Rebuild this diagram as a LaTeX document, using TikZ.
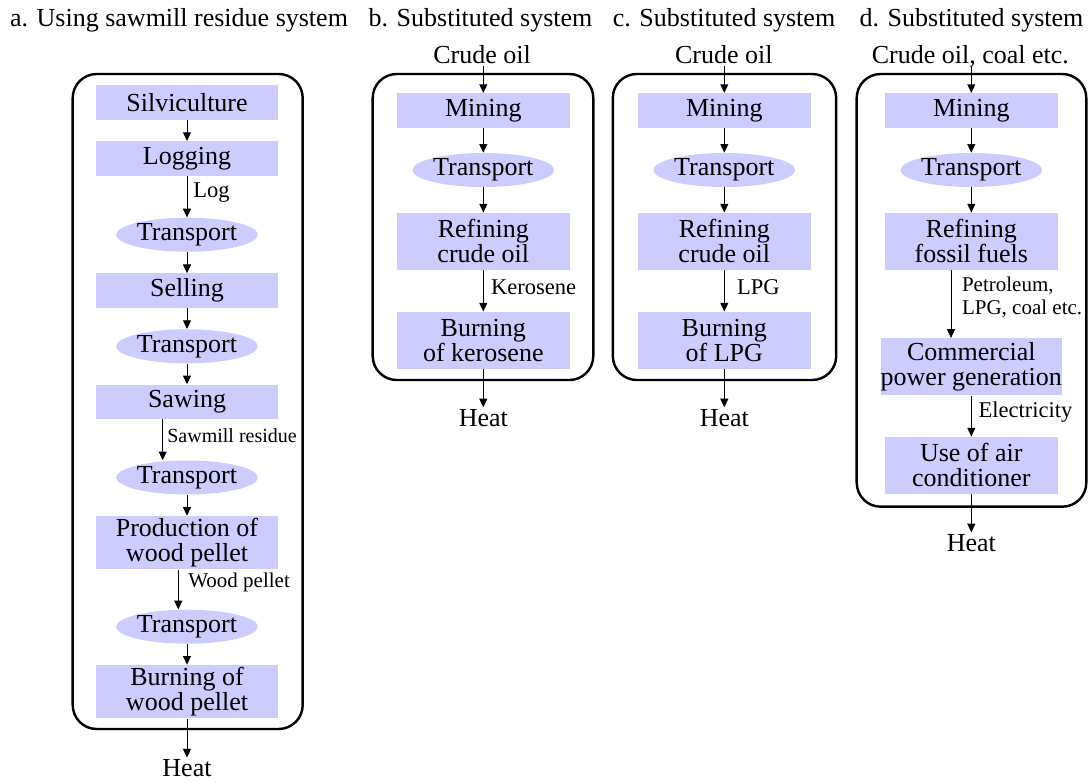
\documentclass[tikz,border=0pt]{standalone}
\usepackage{fontspec}
\setmainfont{Liberation Serif}
\usetikzlibrary{arrows.meta,shapes.geometric}
\definecolor{boxfill}{RGB}{204,204,255}
\newcommand\mainfs{\fontsize{15.6}{15}\selectfont}
\newcommand\lblfs{\fontsize{13.5}{14}\selectfont}
\newcommand\lblsm{\fontsize{12.6}{14}\selectfont}
\newcommand\lblxs{\fontsize{12}{13.6}\selectfont}
\begin{document}
\begin{tikzpicture}[x=0.6pt,y=-0.6pt,
  proc/.style={rectangle,fill=boxfill,inner sep=0pt,align=center,font=\mainfs,minimum height=20.7pt},
  procA/.style={proc,minimum width=109.2pt},
  procB/.style={proc,minimum width=103.8pt},
  tallA/.style={minimum height=32pt},
  tallB/.style={minimum height=34.2pt},
  trans/.style={ellipse,fill=boxfill,inner sep=0pt,minimum width=74.4pt,minimum height=20.4pt,font=\mainfs},
  txt/.style={inner sep=1.2pt,font=\mainfs},
  lbl/.style={inner sep=0pt,anchor=west,font=\lblfs,align=left},
  flow/.style={line width=0.6pt,-{Triangle[width=4.8pt,length=5.2pt]}},
  sys/.style={draw,line width=1.45pt,rounded corners=14.4pt}]

\useasboundingbox (0,0) rectangle (1088,783);

% titles
\node[txt,anchor=base] (ta) at (179,26) {a. Using sawmill residue system};
\node[txt,anchor=base] (tb) at (480.5,26) {b. Substituted system};
\node[txt,anchor=base] (tc) at (724,26) {c. Substituted system};
\node[txt,anchor=base] (td) at (971.5,26) {d. Substituted system};

% frames
\draw[sys] (72.7,74) rectangle (302.7,729);
\draw[sys] (372.7,74) rectangle (593.3,380);
\draw[sys] (612.8,74) rectangle (836.2,380);
\draw[sys] (856.7,74) rectangle (1086.3,506.7);

% ---------------- column a
\node[procA] (silv) at (187,102.5) {Silviculture};
\node[procA] (logg) at (187,158.5) {Logging};
\node[trans] (trA1) at (187,234.7) {Transport};
\node[procA] (sell) at (187,290.7) {Selling};
\node[trans] (trA2) at (187,346.3) {Transport};
\node[procA] (saw) at (187,401.8) {Sawing};
\node[trans] (trA3) at (187,477.5) {Transport};
\node[procA,tallA] (prod) at (187,542.7) {Production of\\wood pellet};
\node[trans] (trA4) at (187,626.7) {Transport};
\node[procA,tallA] (burnA) at (187,691.7) {Burning of\\wood pellet};
\node[txt] (heatA) at (187,768.5) {Heat};

\coordinate (xs) at (162.7,0);
\coordinate (xw) at (178.3,0);
\draw[flow] (silv) -- (logg);
\draw[flow] (logg) -- (trA1);
\draw[flow] (trA1) -- (sell);
\draw[flow] (sell) -- (trA2);
\draw[flow] (trA2) -- (saw);
\draw[flow] (saw.south -| xs) -- (trA3.north -| xs);
\draw[flow] (trA3) -- (prod);
\draw[flow] (prod.south -| xw) -- (trA4.north -| xw);
\draw[flow] (trA4) -- (burnA);
\draw[flow] (burnA) -- (heatA);

\node[lbl] (lLog) at (193,193) {Log};
\node[lbl,font=\lblxs] (lSaw) at (167,436) {Sawmill residue};
\node[lbl,font=\lblsm] (lWood) at (188,582.7) {Wood pellet};

% ---------------- column b
\node[txt,anchor=base] (crudeB) at (482,63.3) {Crude oil};
\node[procB] (minB) at (483.3,110.5) {Mining};
\node[trans] (trB) at (483.3,170) {Transport};
\node[procB,tallB] (refB) at (483.3,241.3) {Refining\\crude oil};
\node[procB,tallB] (burnB) at (483.3,340.3) {Burning\\of kerosene};
\node[txt] (heatB) at (483.3,418.3) {Heat};
\draw[flow] (crudeB.south -| minB) -- (minB);
\draw[flow] (minB) -- (trB);
\draw[flow] (trB) -- (refB);
\draw[flow] (refB) -- (burnB);
\draw[flow] (burnB) -- (heatB);
\node[lbl] (lKer) at (490.7,287.3) {Kerosene};

% ---------------- column c
\node[txt,anchor=base] (crudeC) at (723.8,63.3) {Crude oil};
\node[procB] (minC) at (724.3,110.5) {Mining};
\node[trans] (trC) at (724.3,170) {Transport};
\node[procB,tallB] (refC) at (724.3,241.3) {Refining\\crude oil};
\node[procB,tallB] (burnC) at (724.3,340.3) {Burning\\of LPG};
\node[txt] (heatC) at (724.3,418.3) {Heat};
\draw[flow] (crudeC.south -| minC) -- (minC);
\draw[flow] (minC) -- (trC);
\draw[flow] (trC) -- (refC);
\draw[flow] (refC) -- (burnC);
\draw[flow] (burnC) -- (heatC);
\node[lbl] (lLPG) at (736.7,287.3) {LPG};

% ---------------- column d
\node[txt,anchor=base] (crudeD) at (970.3,63.3) {Crude oil, coal etc.};
\node[procB] (minD) at (971.3,110.5) {Mining};
\node[trans] (trD) at (971.3,170) {Transport};
\node[procB,tallB] (refD) at (971.3,241.3) {Refining\\fossil fuels};
\node[procB,tallB] (commD) at (971.3,366.7) {Commercial\\power generation};
\node[procB,tallB] (useD) at (971.3,465.3) {Use of air\\conditioner};
\node[txt] (heatD) at (971.3,543.3) {Heat};
\coordinate (xp) at (951,0);
\draw[flow] (crudeD.base -| minD) ++(0,3) -- (minD);
\draw[flow] (minD) -- (trD);
\draw[flow] (trD) -- (refD);
\draw[flow] (refD.south -| xp) -- (commD.north -| xp);
\draw[flow] (commD) -- (useD);
\draw[flow] (useD) -- (heatD);
\node[lbl,font=\lblsm] (lPet) at (961.7,297) {Petroleum,\\LPG, coal etc.};
\node[lbl] (lEl) at (978.3,411.7) {Electricity};
\end{tikzpicture}
\end{document}
